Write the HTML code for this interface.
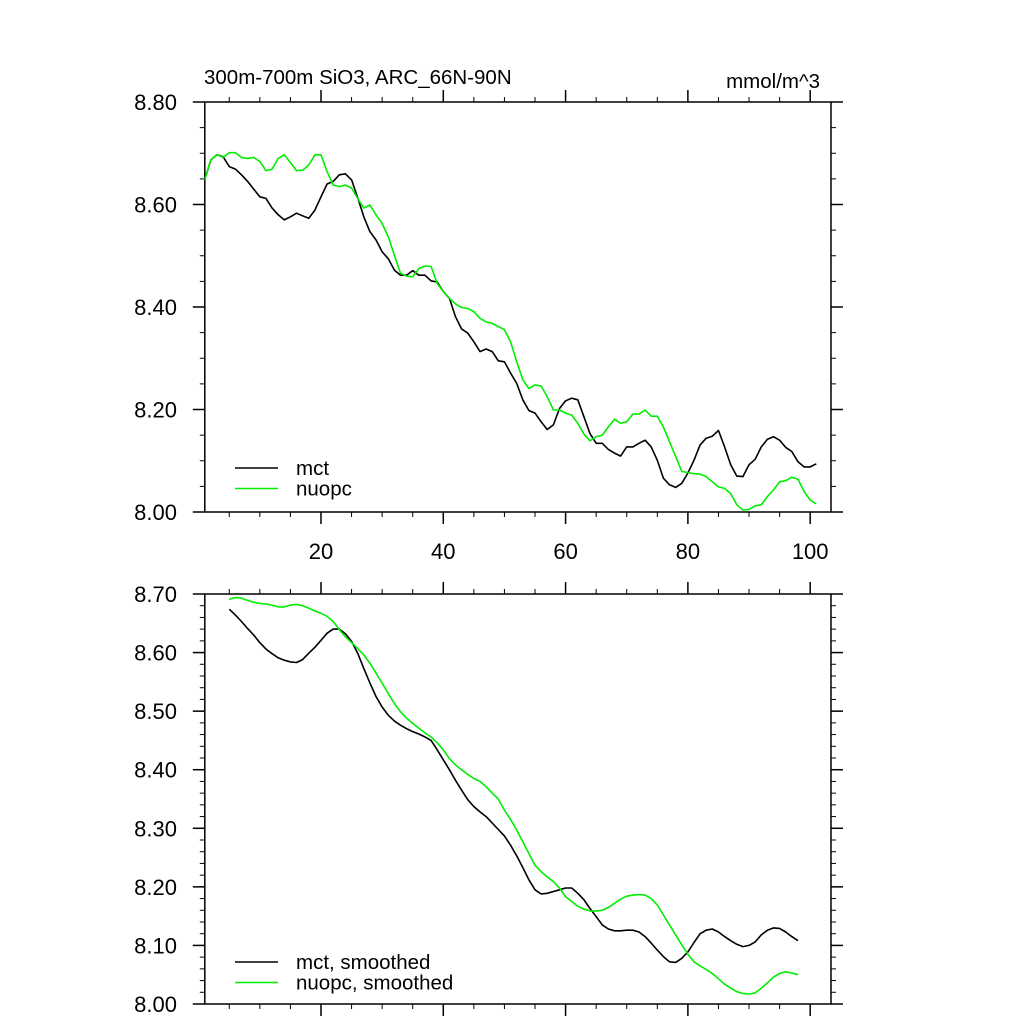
<!DOCTYPE html>
<html><head><meta charset="utf-8"><style>
html,body{margin:0;padding:0;background:#fff;}
svg{display:block;font-family:"Liberation Sans",Arial,sans-serif;}
</style></head><body>
<svg id="chart" width="1024" height="1024" viewBox="0 0 1024 1024" xmlns="http://www.w3.org/2000/svg">
<text x="204" y="84" font-size="20.5">300m-700m SiO3, ARC_66N-90N</text>
<text x="820" y="88" font-size="20.5" text-anchor="end">mmol/m^3</text>
</svg>
<script>
const mctRaw = [8.649,8.687,8.697,8.693,8.674,8.669,8.658,8.645,8.630,8.615,8.612,8.593,8.580,8.570,8.576,8.583,8.578,8.573,8.589,8.615,8.640,8.645,8.658,8.660,8.648,8.613,8.576,8.547,8.531,8.508,8.494,8.472,8.462,8.462,8.471,8.462,8.462,8.451,8.449,8.430,8.417,8.381,8.357,8.349,8.332,8.313,8.318,8.313,8.295,8.293,8.271,8.251,8.219,8.198,8.193,8.176,8.161,8.170,8.202,8.217,8.222,8.219,8.186,8.153,8.134,8.134,8.122,8.115,8.109,8.127,8.127,8.134,8.140,8.127,8.101,8.066,8.053,8.048,8.056,8.076,8.101,8.131,8.144,8.148,8.159,8.127,8.092,8.070,8.069,8.092,8.103,8.127,8.142,8.147,8.140,8.126,8.118,8.098,8.088,8.088,8.094];
const nuopcRaw = [8.649,8.687,8.697,8.692,8.701,8.701,8.692,8.690,8.692,8.684,8.666,8.669,8.690,8.697,8.682,8.666,8.667,8.677,8.697,8.697,8.664,8.638,8.635,8.638,8.632,8.612,8.593,8.599,8.580,8.563,8.537,8.501,8.466,8.460,8.459,8.475,8.480,8.479,8.446,8.430,8.417,8.406,8.399,8.397,8.391,8.378,8.371,8.368,8.362,8.356,8.332,8.293,8.258,8.241,8.248,8.246,8.225,8.199,8.199,8.193,8.189,8.173,8.152,8.139,8.147,8.150,8.166,8.181,8.173,8.176,8.191,8.191,8.199,8.187,8.187,8.166,8.137,8.108,8.079,8.077,8.075,8.074,8.069,8.059,8.049,8.046,8.036,8.014,8.004,8.005,8.012,8.014,8.030,8.043,8.059,8.061,8.068,8.064,8.040,8.023,8.016];
const rawStartYear = 1;
const mctSmooth = [8.674,8.664,8.653,8.641,8.630,8.617,8.606,8.598,8.591,8.587,8.584,8.583,8.588,8.599,8.609,8.621,8.633,8.640,8.640,8.632,8.619,8.599,8.573,8.548,8.525,8.507,8.493,8.483,8.476,8.470,8.465,8.461,8.456,8.450,8.434,8.417,8.400,8.382,8.365,8.349,8.337,8.328,8.320,8.309,8.298,8.287,8.271,8.253,8.233,8.212,8.195,8.188,8.189,8.192,8.195,8.198,8.198,8.189,8.178,8.163,8.149,8.135,8.128,8.125,8.125,8.126,8.126,8.123,8.115,8.104,8.092,8.081,8.072,8.071,8.078,8.089,8.105,8.120,8.126,8.128,8.123,8.115,8.108,8.102,8.098,8.100,8.106,8.118,8.126,8.130,8.129,8.123,8.115,8.108];
const nuopcSmooth = [8.691,8.694,8.693,8.689,8.686,8.684,8.683,8.681,8.678,8.678,8.681,8.682,8.680,8.676,8.671,8.667,8.662,8.653,8.639,8.627,8.617,8.607,8.596,8.582,8.565,8.548,8.530,8.513,8.499,8.488,8.479,8.471,8.463,8.456,8.446,8.434,8.419,8.408,8.400,8.392,8.385,8.380,8.371,8.360,8.350,8.331,8.315,8.297,8.277,8.257,8.237,8.226,8.217,8.209,8.198,8.183,8.175,8.167,8.162,8.159,8.159,8.160,8.165,8.172,8.179,8.184,8.186,8.187,8.186,8.180,8.169,8.152,8.135,8.118,8.101,8.085,8.072,8.065,8.059,8.052,8.043,8.034,8.027,8.021,8.018,8.017,8.019,8.027,8.036,8.046,8.052,8.055,8.053,8.050];
const smoothStartYear = 5;
const xTicks = [20,40,60,80,100];
const yTicksTop = [8.00,8.20,8.40,8.60,8.80];
const yTicksBottom = [8.00,8.10,8.20,8.30,8.40,8.50,8.60,8.70];

const NS="http://www.w3.org/2000/svg";
const svg=document.getElementById('chart');
function mk(tag,attrs,parent){const e=document.createElementNS(NS,tag);for(const k in attrs)e.setAttribute(k,attrs[k]);(parent||svg).appendChild(e);return e;}

const X0=204.8, X1=831, XMIN=1, XMAX=XMIN+(X1-X0)/6.115;
function xs(v){return X0+(v-XMIN)*6.115;}

function panel(cfg){
  const g=mk('g',{});
  
  
  const ys=v=>cfg.y1-(v-cfg.ymin)/(cfg.ymax-cfg.ymin)*(cfg.y1-cfg.y0);
  for(let v=cfg.ymin;v<=cfg.ymax+1e-9;v+=cfg.yminor){
    const y=ys(v);
    const t1=mk('line',{x1:X0-5,x2:X0,y1:y,y2:y,stroke:'#000','stroke-width':1},g);
    
    const t2=mk('line',{x1:X1,x2:X1+5,y1:y,y2:y,stroke:'#000','stroke-width':1},g);
    
  }
  cfg.yt.forEach(v=>{
    const y=ys(v);
    const t=mk('line',{x1:X0-12,x2:X0,y1:y,y2:y,stroke:'#000','stroke-width':1.5},g);
    
    const t2=mk('line',{x1:X1,x2:X1+12,y1:y,y2:y,stroke:'#000','stroke-width':1.5},g);
    
    const l=mk('text',{x:177,y:y+8,'font-size':22,'text-anchor':'end'},g);
    
    l.textContent=v.toFixed(2);
  });
  for(let v=5;v<=XMAX;v+=5){
    const x=xs(v);const major=(v%20===0);const L=major?12:5;
    const a=mk('line',{x1:x,x2:x,y1:cfg.y0-L,y2:cfg.y0,stroke:'#000','stroke-width':major?1.5:1},g);
    
    const b=mk('line',{x1:x,x2:x,y1:cfg.y1,y2:cfg.y1+L,stroke:'#000','stroke-width':major?1.5:1},g);
    
  }
  if(cfg.xlabels){
    xTicks.forEach(v=>{
      const l=mk('text',{x:xs(v),y:559,'font-size':22,'text-anchor':'middle'},g);
      
      l.textContent=v;
    });
  }
  const fr=mk('rect',{x:X0,y:cfg.y0,width:X1-X0,height:cfg.y1-cfg.y0,fill:'none',stroke:'#000','stroke-width':1.5},g);
  
  cfg.series.forEach(s=>{
    const pts=s.data.map((v,i)=>xs(s.start+i).toFixed(1)+','+ys(v).toFixed(1)).join(' ');
    const p=mk('polyline',{points:pts,fill:'none',stroke:s.color,'stroke-width':1.6,'stroke-linejoin':'round'},g);
    
  });
  cfg.legend.forEach((s,i)=>{
    const y=cfg.ly+i*20.5;
    const lg=mk('g',{},g);
    
    mk('line',{x1:235,x2:278,y1:y,y2:y,stroke:s.color,'stroke-width':1.6},lg);
    const t=mk('text',{x:296,y:y+7,'font-size':20.5},lg);
    t.textContent=s.label;
  });
}
panel({name:'raw-panel',y0:102,y1:512,ymin:8.0,ymax:8.8,yminor:0.05,yt:yTicksTop,xlabels:true,ly:468,
  series:[{name:'mct-line',data:mctRaw,start:rawStartYear,color:'#000'},{name:'nuopc-line',data:nuopcRaw,start:rawStartYear,color:'#00ee00'}],
  legend:[{color:'#000',label:'mct'},{color:'#00ee00',label:'nuopc'}]});
panel({name:'smoothed-panel',y0:594,y1:1004,ymin:8.0,ymax:8.7,yminor:0.02,yt:yTicksBottom,xlabels:false,ly:962,
  series:[{name:'mct-smoothed-line',data:mctSmooth,start:smoothStartYear,color:'#000'},{name:'nuopc-smoothed-line',data:nuopcSmooth,start:smoothStartYear,color:'#00ee00'}],
  legend:[{color:'#000',label:'mct, smoothed'},{color:'#00ee00',label:'nuopc, smoothed'}]});
</script>
</body></html>
